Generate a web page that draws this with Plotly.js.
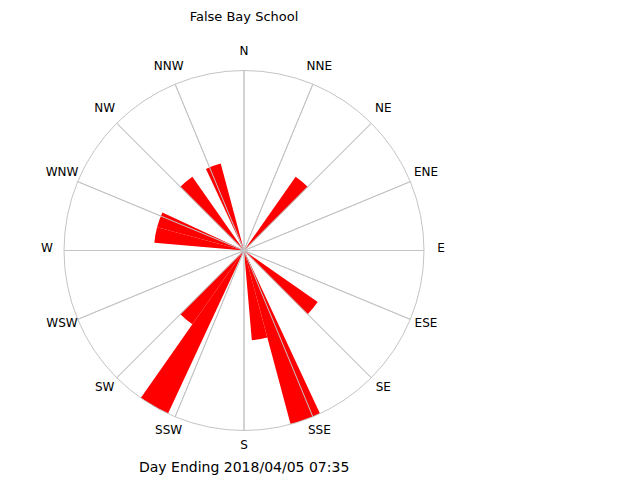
<!DOCTYPE html>
<html>
<head>
<meta charset="utf-8">
<script src="https://cdn.plot.ly/plotly-3.0.1.min.js"></script>
<style>html,body{margin:0;padding:0;background:#fff;}#chart{width:640px;height:480px;}</style>
</head>
<body>
<div id="chart"></div>
<script>
// Compass directions (tick positions) and their labels
const directions = [0, 22.5, 45, 67.5, 90, 112.5, 135, 157.5, 180, 202.5, 225, 247.5, 270, 292.5, 315, 337.5];
const dirLabels = ['N', 'NNE', 'NE', 'ENE', 'E', 'ESE', 'SE', 'SSE', 'S', 'SSW', 'SW', 'WSW', 'W', 'WNW', 'NW', 'NNW'];

// Wind direction bins (degrees) and their counts
const binAngles = [40, 130, 160, 170, 210, 220, 280, 290, 320, 340];
const binCounts = [1, 1, 2, 1, 2, 1, 1, 1, 1, 1];

const titleText = 'False Bay School';
const footerText = 'Day Ending 2018/04/05 07:35';

const FONT = 'DejaVu Sans';
const GRID = '#c4c4c4';
const RMAX = 2;

// geometry of the rose (pixels)
const CX = 244, CY = 250.5, RAD = 180;
const LCY = 248.5;         // label ring centre (text sits slightly high)
const LRAD = 204;          // extent of label subplot
const LABEL_PX = 197;      // label radius

// spokes drawn over the bars
const spokeR = [], spokeT = [];
directions.forEach(d => { spokeR.push(0, RMAX, null); spokeT.push(d, d, null); });

const traces = [
  {
    type: 'barpolar',
    r: binCounts,
    theta: binAngles,
    width: 10,
    marker: {color: '#ff0000', line: {width: 0}},
    hoverinfo: 'r+theta',
    subplot: 'polar'
  },
  {
    type: 'scatterpolar',
    mode: 'lines',
    r: spokeR,
    theta: spokeT,
    line: {color: GRID, width: 1},
    connectgaps: false,
    hoverinfo: 'skip',
    subplot: 'polar'
  },
  {
    type: 'scatterpolar',
    mode: 'text',
    r: directions.map(() => LABEL_PX),
    theta: directions,
    text: dirLabels,
    textposition: 'middle center',
    textfont: {family: FONT, size: 12, color: '#000'},
    cliponaxis: false,
    hoverinfo: 'skip',
    subplot: 'polar2'
  }
];

const hiddenAngular = {rotation: 90, direction: 'clockwise', visible: false, showgrid: false, showline: false, showticklabels: false};

const layout = {
  width: 640,
  height: 480,
  autosize: false,
  margin: {l: 0, r: 0, t: 0, b: 0, pad: 0},
  paper_bgcolor: '#fff',
  plot_bgcolor: '#fff',
  showlegend: false,
  font: {family: FONT, color: '#000'},
  title: {
    text: titleText,
    font: {family: FONT, size: 13, color: '#000'},
    x: CX / 640, xanchor: 'center', xref: 'paper',
    y: 1 - 16 / 480, yanchor: 'middle', yref: 'container'
  },
  annotations: [{
    text: footerText,
    xref: 'paper', yref: 'paper',
    x: CX / 640, y: 1 - 467 / 480,
    xanchor: 'center', yanchor: 'middle',
    showarrow: false,
    font: {family: FONT, size: 14, color: '#000'}
  }],
  polar: {
    domain: {x: [(CX - RAD) / 640, (CX + RAD) / 640], y: [(480 - CY - RAD) / 480, (480 - CY + RAD) / 480]},
    bgcolor: '#fff',
    radialaxis: {visible: false, range: [0, RMAX]},
    angularaxis: {
      rotation: 90,
      direction: 'clockwise',
      tickmode: 'array',
      tickvals: directions,
      showticklabels: false,
      ticks: '',
      showgrid: true,
      gridcolor: GRID,
      gridwidth: 1,
      showline: true,
      linecolor: GRID,
      linewidth: 1
    }
  },
  polar2: {
    domain: {x: [(CX - LRAD) / 640, (CX + LRAD) / 640], y: [(480 - LCY - LRAD) / 480, (480 - LCY + LRAD) / 480]},
    bgcolor: 'rgba(0,0,0,0)',
    radialaxis: {visible: false, range: [0, LRAD]},
    angularaxis: hiddenAngular
  }
};

Plotly.newPlot('chart', traces, layout, {displayModeBar: false, staticPlot: true});
</script>
</body>
</html>
